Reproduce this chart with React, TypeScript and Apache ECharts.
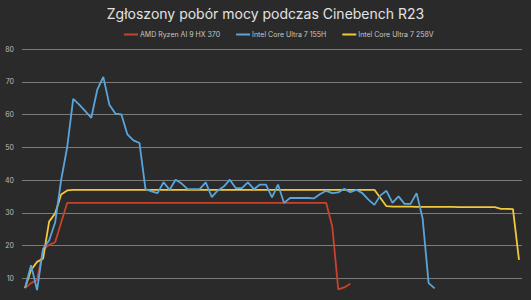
import React, { useEffect, useRef } from "react";
import * as echarts from "echarts";

const seriesNames = ["AMD Ryzen AI 9 HX 370", "Intel Core Ultra 7 155H", "Intel Core Ultra 7 258V"];
const seriesColors = ["#c8432b", "#5aa5dc", "#f2c83c"];

const amd: (number | null)[] = [
  7, 8.5, 9.5, 18.7, 20.2, 21, 27, 33, 33, 33,
  33, 33, 33, 33, 33, 33, 33, 33, 33, 33,
  33, 33, 33, 33, 33, 33, 33, 33, 33, 33,
  33, 33, 33, 33, 33, 33, 33, 33, 33, 33,
  33, 33, 33, 33, 33, 33, 33, 33, 33, 33,
  33, 25.8, 6.6, 7.2, 8.3,
];

const intel155h: (number | null)[] = [
  7, 14, 6.4, 19, 21.5, 27, 40, 50, 64.8, 63,
  61, 59, 67.6, 71.5, 63, 60.3, 60, 53.9, 52.1, 51.3,
  37.2, 36.5, 36, 39.3, 37, 40.1, 38.9, 37.2, 37.2, 37.2,
  39.3, 34.8, 36.8, 38, 40.1, 37.5, 37.5, 39.3, 37.2, 38.6,
  38.6, 34.7, 38.6, 33, 34.5, 34.5, 34.5, 34.5, 34.4, 35.7,
  36.7, 36, 36.2, 37.3, 36.3, 37, 36, 34, 32.4, 35.3,
  36.7, 33, 35, 32.7, 32.7, 36, 28.3, 8.5, 6.9,
];

const intel258v: (number | null)[] = [
  7, 12.5, 15, 16, 27.3, 29.8, 35.6, 36.8, 37, 37,
  37, 37, 37, 37, 37, 37, 37, 37, 37, 37,
  37, 37, 37, 37, 37, 37, 37, 37, 37, 37,
  37, 37, 37, 37, 37, 37, 37, 37, 37, 37,
  37, 37, 37, 37, 37, 37, 37, 37, 37, 37,
  37, 37, 37, 37, 37, 37, 37, 37, 37, 34.5,
  32, 31.9, 31.9, 31.9, 31.9, 31.8, 31.8, 31.8, 31.8, 31.8,
  31.8, 31.8, 31.7, 31.7, 31.7, 31.7, 31.7, 31.7, 31.7, 31.2,
  31.2, 31.1, 15.6,
];

const categories: string[] = intel258v.map((_, i) => String(i + 1));

const yTicks = { min: 0, max: 80, interval: 10 };

export default function App() {
  const ref = useRef<HTMLDivElement>(null);
  useEffect(() => {
    if (!ref.current) return;
    const chart = echarts.init(ref.current, undefined, { renderer: "svg" });
    const font = "Inter, 'Noto Sans', sans-serif";
    const data = [amd, intel155h, intel258v];
    chart.setOption({
      animation: false,
      backgroundColor: "#2a2a2a",
      title: {
        text: "Zgłoszony pobór mocy podczas Cinebench R23",
        left: "center",
        top: 1,
        textStyle: { color: "#e2e2e2", fontSize: 14, fontWeight: "normal", fontFamily: font },
      },
      legend: {
        top: 26,
        left: 119,
        icon: "rect",
        itemWidth: 14,
        itemHeight: 2,
        itemGap: 16,
        textStyle: { color: "#c8c8c8", fontSize: 7, fontFamily: font, padding: [0, 0, 0, -3] },
        data: seriesNames,
      },
      grid: { left: 22, top: 49, bottom: 9, right: 9, containLabel: false },
      xAxis: {
        type: "category",
        data: categories,
        boundaryGap: true,
        axisLine: { show: false },
        axisTick: { show: false },
        axisLabel: { show: false },
      },
      yAxis: {
        type: "value",
        min: yTicks.min,
        max: yTicks.max,
        interval: yTicks.interval,
        axisLine: { show: false },
        axisTick: { show: false },
        axisLabel: { color: "#bdbdbd", fontSize: 7, fontFamily: font, margin: 8, showMinLabel: false },
        splitLine: { lineStyle: { color: "#7c7c7c", width: 1 } },
      },
      series: seriesNames.map((name, k) => ({
        name,
        type: "line",
        data: data[k],
        symbol: "none",
        showSymbol: false,
        lineStyle: { color: seriesColors[k], width: 1.8 },
        itemStyle: { color: seriesColors[k] },
        z: k === 1 ? 3 : k === 2 ? 2 : 1,
      })),
    });
    return () => chart.dispose();
  }, []);
  return (
    <div style={{ position: "fixed", left: 0, top: 0, width: 531, height: 300, overflow: "hidden" }}>
      <div ref={ref} style={{ width: 531, height: 320 }} />
    </div>
  );
}
